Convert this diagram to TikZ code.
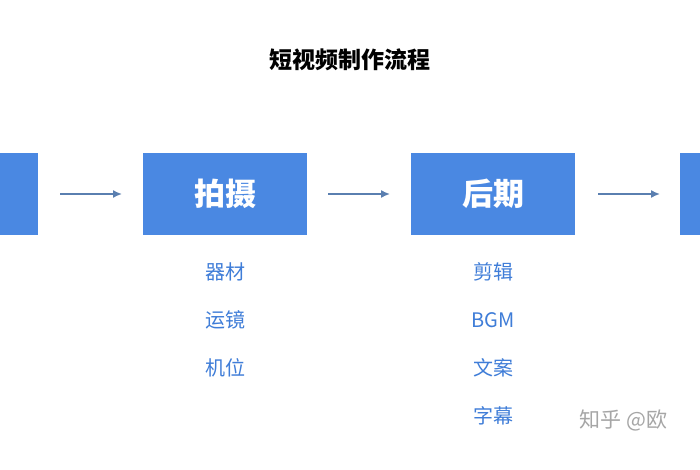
\documentclass[tikz,border=0pt]{standalone}
\usepackage{fontspec}
\setmainfont{Noto Sans CJK SC}
\usetikzlibrary{positioning,arrows.meta}
\definecolor{boxblue}{HTML}{4A88E2}
\definecolor{labblue}{HTML}{3F7DD8}
\definecolor{arrgray}{HTML}{5A7FB0}
\tikzset{
  stage/.style={fill=boxblue, minimum width=164pt, minimum height=81pt, inner sep=0pt,
    text=white, font=\bfseries\fontsize{31}{31}\selectfont},
  sub/.style={text=labblue, font=\fontsize{20}{20}\selectfont},
  flow/.style={draw=arrgray, line width=1.6pt, -{Latex[length=9pt,width=8pt]}}
}
\begin{document}
\begin{tikzpicture}[x=1pt,y=-1pt]
  \useasboundingbox (0,0) rectangle (700,470);
  \clip (0,0) rectangle (700,470);
  \fill[white] (0,0) rectangle (700,470);

  \node[font=\bfseries\fontsize{23}{23}\selectfont] (title) at (350,60) {短视频制作流程};

  \node[stage] (prep) at (-44,194) {};
  \node[stage] (shoot) at (225,194) {拍摄};
  \node[stage] (post) at (493,194) {后期};
  \node[stage] (pub) at (762,194) {};

  \draw[flow] (60,194) -- (122,194);
  \draw[flow] (328,194) -- (390,194);
  \draw[flow] (598,194) -- (660,194);

  \node[sub] (s1) at (225,272) {器材};
  \node[sub] (s2) at (225,320) {运镜};
  \node[sub] (s3) at (225,368) {机位};

  \node[sub] (p1) at (493,272) {剪辑};
  \node[sub] (p2) at (493,320) {BGM};
  \node[sub] (p3) at (493,368) {文案};
  \node[sub] (p4) at (493,416) {字幕};

  \node[text=gray!70, font=\fontsize{21}{21}\selectfont, anchor=west] (mark) at (576,420) {知乎 @欧};
\end{tikzpicture}
\end{document}
